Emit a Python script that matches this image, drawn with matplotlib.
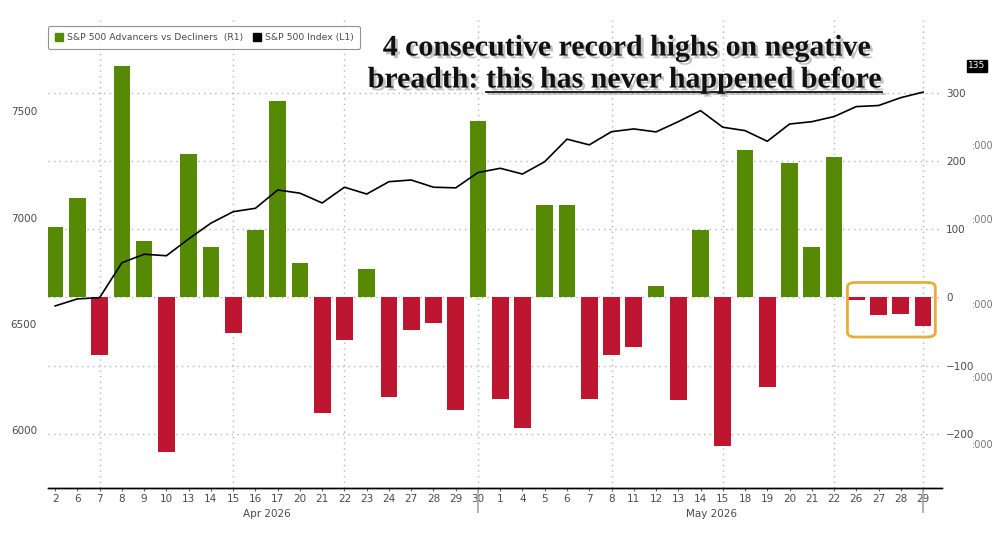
import matplotlib
matplotlib.use("Agg")
import matplotlib.pyplot as plt
import matplotlib.patheffects as pe
from matplotlib.patches import FancyBboxPatch, Rectangle
from matplotlib.lines import Line2D
import numpy as np

# -----------------------------------------------------------------------------
# Data
# -----------------------------------------------------------------------------
apr_days = [2, 6, 7, 8, 9, 10, 13, 14, 15, 16, 17, 20, 21, 22, 23, 24, 27, 28, 29, 30]
may_days = [1, 4, 5, 6, 7, 8, 11, 12, 13, 14, 15, 18, 19, 20, 21, 22, 26, 27, 28, 29]
day_labels = [str(d) for d in apr_days + may_days]

# S&P 500 advancers minus decliners (right axis)
adv_dec = [103, 146, -85, 339, 83, -227, 211, 74, -52, 99, 288,
           51, -170, -63, 42, -146, -47, -37, -165, 259,
           -149, -191, 136, 136, -149, -84, -73, 17, -150, 99, -218,
           216, -132, 197, 74, 206, -4, -26, -24, -42]

# S&P 500 index (left axis)
spx = [6585, 6618, 6624, 6788, 6828, 6821, 6900, 6974, 7028, 7044, 7130,
       7115, 7069, 7143, 7111, 7169, 7177, 7143, 7140, 7212,
       7232, 7205, 7263, 7369, 7342, 7404, 7417, 7403, 7451, 7503, 7425,
       7409, 7359, 7440, 7451, 7475, 7522, 7527, 7564, 7590]

grid_days = [2, 8, 13, 19, 25, 30, 35, 39]   # indices with vertical dotted gridlines
month_labels = ["Apr 2026", "May 2026"]

GREEN = "#568a05"
RED = "#be1631"
GRID = "#b5b5b5"
TXT = "#4a4a4a"

# -----------------------------------------------------------------------------
# Figure
# -----------------------------------------------------------------------------
fig = plt.figure(figsize=(10, 5.33), dpi=100)
ax_r = fig.add_axes([0.048, 0.0839, 0.894, 0.8786])   # bars, right scale
ax_l = ax_r.twinx()                                     # index line, left scale
ax_l.yaxis.tick_left()
ax_r.yaxis.tick_right()
ax_l.set_zorder(ax_r.get_zorder() + 1)
ax_l.patch.set_visible(False)

x = np.arange(len(adv_dec))
vals = np.array(adv_dec)
colors = [GREEN if v >= 0 else RED for v in vals]
ax_r.bar(x, vals, width=0.75, color=colors, zorder=3)

ax_l.plot(x, spx, color="black", lw=1.2, zorder=4)

ax_r.set_xlim(-0.32, 39.85)
ax_r.set_ylim(-279.8, 406.9)
ax_l.set_ylim(5728, 7929)

ax_r.set_yticks([-200, -100, 0, 100, 200, 300])
ax_l.set_yticks([6000, 6500, 7000, 7500])
ax_r.yaxis.grid(True, linestyle=(0, (1, 3)), color=GRID, lw=1.0, zorder=0)
for gx in grid_days:
    ax_r.axvline(gx, linestyle=(0, (1, 3)), color=GRID, lw=1.0, zorder=0)

for a in (ax_r, ax_l):
    for s in ("top", "left", "right"):
        a.spines[s].set_visible(False)
    a.spines["bottom"].set_color("black")
    a.spines["bottom"].set_linewidth(1.0)

ax_r.set_xticks(x)
ax_r.set_xticklabels(day_labels)
ax_r.tick_params(axis="x", length=2, width=0.8, color="#666", pad=2,
                 labelsize=7.5, labelcolor=TXT)
ax_r.tick_params(axis="y", length=0, pad=3, labelsize=7.5, labelcolor=TXT)
ax_l.tick_params(axis="y", length=0, pad=8, labelsize=7.5, labelcolor=TXT)

# month labels and separators
xt = ax_r.get_xaxis_transform()
ax_r.text(9.5, -0.045, month_labels[0], transform=xt, ha="center", va="top",
          fontsize=7.5, color=TXT)
ax_r.text(29.5, -0.045, month_labels[1], transform=xt, ha="center", va="top",
          fontsize=7.5, color=TXT)
for sx in (19, 39):
    ax_r.add_line(Line2D([sx, sx], [-0.005, -0.05], transform=xt, color="#aaa",
                         lw=1.3, clip_on=False))

# legend
leg_handles = [Rectangle((0, 0), 1, 1, color=GREEN), Rectangle((0, 0), 1, 1, color="black")]
leg = ax_r.legend(leg_handles, ["S&P 500 Advancers vs Decliners  (R1)", "S&P 500 Index (L1)"],
                  loc="upper left", bbox_to_anchor=(0.0, 0.987), borderaxespad=0.0,
                  ncol=2, fontsize=6.7, frameon=True, fancybox=True, edgecolor="#777",
                  handlelength=0.9, handleheight=0.9, handletextpad=0.4,
                  columnspacing=1.0, borderpad=0.75, labelcolor=TXT)
leg.get_frame().set_linewidth(0.8)
leg.set_zorder(10)

# highlight box around the last four bars
box = FancyBboxPatch((35.6, -58), 3.95, 80, boxstyle="round,pad=0,rounding_size=0.35",
                     transform=ax_r.transData, fill=False, edgecolor="#e6ad3a", lw=2.0,
                     zorder=5, mutation_aspect=80 / 4)
ax_r.add_patch(box)

# last-value tag
fig.text(0.977, 1 - 66 / 533, "135", ha="center", va="center", fontsize=6.5,
         color="white", bbox=dict(boxstyle="square,pad=0.15", fc="black", ec="black"))

# stray axis-label fragments along the right edge
for yy in (146, 220, 305, 378, 445):
    fig.text(0.972, 1 - yy / 533, ":000", ha="left", va="center", fontsize=7,
             color="#777")

# headline
shadow = [pe.SimplePatchShadow(offset=(2, -2), shadow_rgbFace="#888", alpha=0.5), pe.Normal()]
title_kw = dict(fontsize=21.5, fontfamily="Liberation Serif", fontweight="bold",
                color="#111", path_effects=shadow, zorder=20)
fig.text(0.627, 1 - 48 / 533, "4 consecutive record highs on negative",
         ha="center", va="center", **title_kw)
t1 = fig.text(0.0, 1 - 80 / 533, "breadth: ", ha="left", va="center", **title_kw)
t2 = fig.text(0.0, 1 - 80 / 533, "this has never happened before", ha="left", va="center",
              **title_kw)

fig.canvas.draw()
r = fig.canvas.get_renderer()
W = fig.bbox.width
w1 = t1.get_window_extent(r).width
w2 = t2.get_window_extent(r).width
x_start = 0.625 * W - (w1 + w2) / 2
t1.set_x(x_start / W)
t2.set_x((x_start + w1) / W)
fig.canvas.draw()
b2 = t2.get_window_extent(r)
uy = (b2.y0 + 2) / fig.bbox.height
fig.add_artist(Line2D([b2.x0 / W, b2.x1 / W], [uy, uy],
                      transform=fig.transFigure, color="#111", lw=1.3,
                      path_effects=[pe.SimpleLineShadow(offset=(2, -2), shadow_color="#888", alpha=0.5),
                                    pe.Normal()]))

fig.savefig("out.png", dpi=100)
